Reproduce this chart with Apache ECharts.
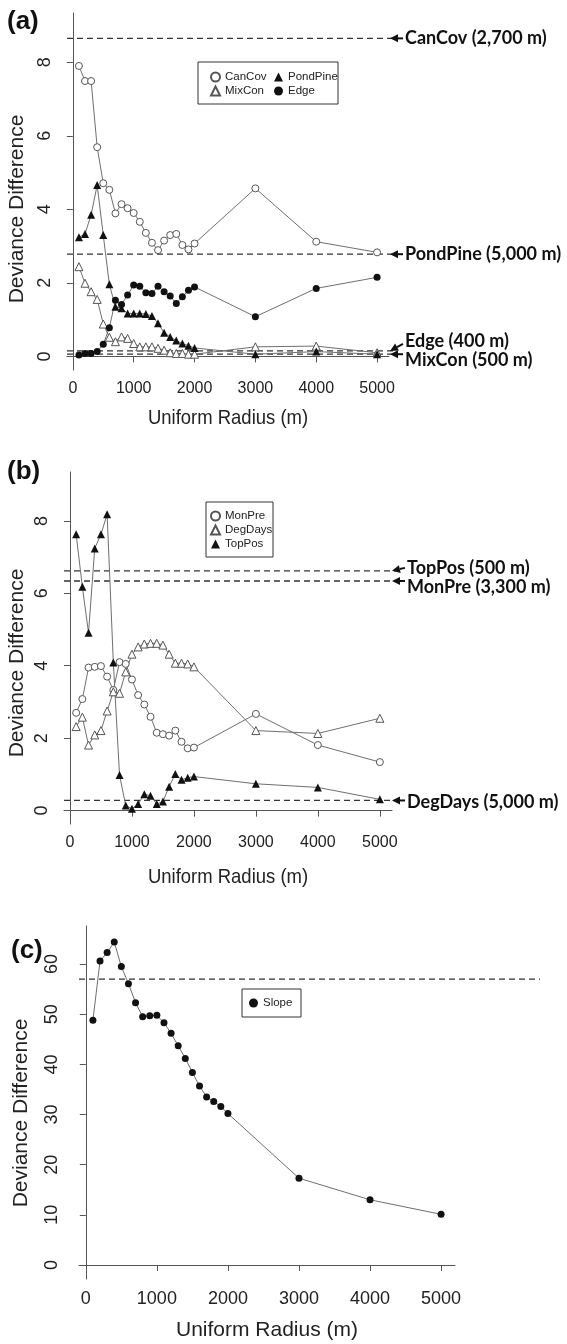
<!DOCTYPE html>
<html>
<head>
<meta charset="utf-8">
<script src="https://cdn.jsdelivr.net/npm/echarts@6/dist/echarts.min.js"></script>
<style>
  html, body { margin: 0; padding: 0; background: #fff; }
  #chart { width: 567px; height: 1344px; }
</style>
</head>
<body>
<div id="chart"></div>
<script>
// buffer radius (m), same for every series
const radius = [100, 200, 300, 400, 500, 600, 700, 800, 900, 1000, 1100, 1200, 1300, 1400, 1500, 1600, 1700, 1800, 1900, 2000, 3000, 4000, 5000]
const xTicks = [0, 1000, 2000, 3000, 4000, 5000]

// panel (a)
const canCov = [7.90, 7.49, 7.49, 5.69, 4.71, 4.53, 3.89, 4.14, 4.03, 3.90, 3.66, 3.36, 3.09, 2.89, 3.15, 3.30, 3.33, 3.03, 2.91, 3.07, 4.57, 3.12, 2.83]
const mixCon = [2.44, 1.99, 1.76, 1.55, 0.88, 0.52, 0.40, 0.53, 0.49, 0.35, 0.26, 0.26, 0.26, 0.22, 0.17, 0.10, 0.08, 0.08, 0.06, 0.06, 0.26, 0.28, 0.10]
const pondPine = [3.24, 3.33, 3.85, 4.66, 3.30, 1.96, 1.35, 1.31, 1.17, 1.17, 1.17, 1.15, 1.10, 0.90, 0.64, 0.53, 0.43, 0.35, 0.29, 0.23, 0.06, 0.13, 0.06]
const edge = [0.04, 0.08, 0.08, 0.13, 0.33, 0.78, 1.53, 1.41, 1.67, 1.94, 1.91, 1.73, 1.71, 1.91, 1.76, 1.64, 1.44, 1.62, 1.80, 1.89, 1.08, 1.85, 2.15]
const ticksA = [0, 2, 4, 6, 8]

// panel (b)
const monPre = [2.70, 3.08, 3.95, 3.97, 3.99, 3.70, 3.33, 4.10, 4.05, 3.62, 3.19, 2.93, 2.59, 2.15, 2.11, 2.07, 2.21, 1.90, 1.72, 1.74, 2.67, 1.81, 1.34]
const degDays = [2.32, 2.58, 1.81, 2.09, 2.21, 2.75, 3.28, 3.24, 3.83, 4.32, 4.52, 4.60, 4.62, 4.62, 4.57, 4.32, 4.07, 4.07, 4.05, 3.97, 2.21, 2.13, 2.55]
const topPos = [7.63, 6.18, 4.91, 7.24, 7.63, 8.18, 4.09, 0.98, 0.14, 0.05, 0.18, 0.45, 0.41, 0.18, 0.25, 0.66, 1.01, 0.85, 0.91, 0.94, 0.74, 0.64, 0.31]
const ticksB = [0, 2, 4, 6, 8]

// panel (c)
const slope = [48.8, 60.6, 62.3, 64.4, 59.5, 56.1, 52.3, 49.5, 49.7, 49.8, 48.3, 46.2, 43.7, 41.2, 38.4, 35.7, 33.5, 32.6, 31.6, 30.2, 17.3, 13.0, 10.1]
const ticksC = [0, 10, 20, 30, 40, 50, 60]

// dashed threshold lines (panel, value, label)
const thresholdPanel = [0, 0, 0, 0, 1, 1, 1, 2]
const thresholdValue = [8.65, 2.78, 0.15, 0.06, 6.62, 6.34, 0.28, 57.0]
const thresholdLabel = ['CanCov (2,700 m)', 'PondPine (5,000 m)', 'Edge (400 m)', 'MixCon (500 m)', 'TopPos (500 m)', 'MonPre (3,300 m)', 'DegDays (5,000 m)', '']

// ---- layout ----
const SANS = '"Liberation Sans", Arial, sans-serif'
const lineEnd = [394, 394, 394, 394, 396, 396, 396, 540]
const labelDy = [0, 0, -10, 6, -3, 6, 2, 0]
const arrowTailDy = [0, 0, -7, 0, -3, 0, 0, 0]

const grids = [
  { left: 67, top: 13, width: 322, height: 357 },
  { left: 64, top: 472, width: 328, height: 352 },
  { left: 79, top: 926, width: 376, height: 353 }
]
const yRange = [[-0.37, 9.34], [-0.37, 9.35], [-2.8, 67.6]]
const yTicks = [ticksA, ticksB, ticksC]

const chart = echarts.init(document.getElementById('chart'))

function makeX (i) {
  return {
    type: 'value', gridIndex: i, min: -96, max: 5196,
    axisLine: { lineStyle: { color: '#555', width: 1 } },
    axisTick: { length: 6, customValues: xTicks, lineStyle: { color: '#555' } },
    axisLabel: {
      customValues: xTicks, margin: 11, color: '#222',
      fontSize: i < 2 ? 16 : 18, fontFamily: SANS,
      formatter: v => String(v)
    },
    splitLine: { show: false }
  }
}

function makeY (i) {
  return {
    type: 'value', gridIndex: i, min: yRange[i][0], max: yRange[i][1],
    axisLine: { show: true, lineStyle: { color: '#555', width: 1 } },
    axisTick: { show: true, length: 6, customValues: yTicks[i], lineStyle: { color: '#555' } },
    axisLabel: {
      customValues: yTicks[i], rotate: 90, margin: i === 2 ? 18 : 13, color: '#222',
      fontSize: 18, fontFamily: SANS,
      formatter: v => String(v)
    },
    splitLine: { show: false }
  }
}

function lineSeries (name, values, symbol, filled, idx) {
  return {
    name: name,
    type: 'line',
    xAxisIndex: idx,
    yAxisIndex: idx,
    data: radius.map((r, k) => [r, values[k]]),
    symbol: symbol,
    symbolSize: symbol === 'triangle' ? 8 : 7,
    lineStyle: { color: '#6f6f6f', width: 1 },
    itemStyle: filled ? { color: '#111' } : { color: '#fff', borderColor: '#555', borderWidth: 1 },
    emphasis: { disabled: true },
    silent: true
  }
}

const legendBase = {
  orient: 'vertical', padding: 0, itemGap: 2, itemWidth: 9, itemHeight: 9,
  selectedMode: false,
  textStyle: { fontSize: 11.5, fontFamily: SANS, color: '#222', lineHeight: 12 }
}

const option = {
  animation: false,
  backgroundColor: '#fff',
  grid: grids,
  xAxis: [makeX(0), makeX(1), makeX(2)],
  yAxis: [makeY(0), makeY(1), makeY(2)],
  legend: [
    Object.assign({}, legendBase, { left: 210, top: 71, data: [{ name: 'CanCov', icon: 'circle' }, { name: 'MixCon', icon: 'triangle' }] }),
    Object.assign({}, legendBase, { left: 274, top: 71, data: [{ name: 'PondPine', icon: 'triangle' }, { name: 'Edge', icon: 'circle' }] }),
    Object.assign({}, legendBase, { left: 210, top: 510, data: [{ name: 'MonPre', icon: 'circle' }, { name: 'DegDays', icon: 'triangle' }, { name: 'TopPos', icon: 'triangle' }] }),
    Object.assign({}, legendBase, { left: 249, top: 997, data: [{ name: 'Slope', icon: 'circle' }] })
  ],
  series: [
    lineSeries('CanCov', canCov, 'circle', false, 0),
    lineSeries('MixCon', mixCon, 'triangle', false, 0),
    lineSeries('PondPine', pondPine, 'triangle', true, 0),
    lineSeries('Edge', edge, 'circle', true, 0),
    lineSeries('MonPre', monPre, 'circle', false, 1),
    lineSeries('DegDays', degDays, 'triangle', false, 1),
    lineSeries('TopPos', topPos, 'triangle', true, 1),
    lineSeries('Slope', slope, 'circle', true, 2)
  ]
}

chart.setOption(option)

// ---- annotations: dashed lines, arrows, labels, boxes, titles ----
function arrow (tx, ty, sx, sy) {
  const dx = tx - sx
  const dy = ty - sy
  const len = Math.sqrt(dx * dx + dy * dy)
  const ux = dx / len
  const uy = dy / len
  const bx = tx - ux * 8
  const by = ty - uy * 8
  return [
    { type: 'polygon', shape: { points: [[tx, ty], [bx - uy * 4, by + ux * 4], [bx + uy * 4, by - ux * 4]] }, style: { fill: '#111' } },
    { type: 'line', shape: { x1: sx, y1: sy, x2: bx, y2: by }, style: { stroke: '#111', lineWidth: 2 } }
  ]
}

const graphics = []
thresholdValue.forEach((v, k) => {
  const g = thresholdPanel[k]
  const left = chart.convertToPixel({ gridIndex: g }, [-96, v])
  const y = left[1]
  graphics.push({
    type: 'line',
    shape: { x1: left[0], y1: y, x2: lineEnd[k], y2: y },
    style: { stroke: '#333', lineWidth: 1.3, lineDash: [6, 4] }
  })
  if (thresholdLabel[k]) {
    const tip = lineEnd[k] - 4
    arrow(tip, y, tip + 13, y + arrowTailDy[k]).forEach(a => graphics.push(a))
    graphics.push({
      type: 'text', x: tip + 15, y: y + labelDy[k],
      style: { text: thresholdLabel[k], fontSize: 18, fontWeight: 'bold', fontFamily: 'Lato, "Open Sans", sans-serif', fill: '#111', verticalAlign: 'middle' }
    })
  }
})

// legend frames
const boxes = [[198, 62, 140, 42], [206, 502, 67, 55], [242, 989, 59, 28]]
boxes.forEach(b => {
  graphics.push({ type: 'rect', shape: { x: b[0], y: b[1], width: b[2], height: b[3] }, style: { fill: null, stroke: '#333', lineWidth: 1 } })
})

// panel letters
const letters = [['(a)', 7, 22], ['(b)', 7, 472], ['(c)', 11, 951]]
letters.forEach(l => {
  graphics.push({ type: 'text', x: l[1], y: l[2], style: { text: l[0], fontSize: 26, fontWeight: 'bold', fontFamily: SANS, fill: '#111', verticalAlign: 'middle' } })
})

// axis titles
const xTitles = [[228, 418, 0.88], [228, 877, 0.88], [267, 1330, 1]]
xTitles.forEach(t => {
  graphics.push({ type: 'text', x: t[0], y: t[1], scaleX: t[2], style: { text: 'Uniform Radius (m)', fontSize: 21, fontFamily: SANS, fill: '#222', align: 'center', verticalAlign: 'middle' } })
})
const yTitles = [[17, 209], [17, 663], [21, 1113]]
yTitles.forEach(t => {
  graphics.push({ type: 'text', x: t[0], y: t[1], rotation: Math.PI / 2, style: { text: 'Deviance Difference', fontSize: 21, fontFamily: SANS, fill: '#222', align: 'center', verticalAlign: 'middle' } })
})

chart.setOption({ graphic: graphics })
</script>
</body>
</html>
